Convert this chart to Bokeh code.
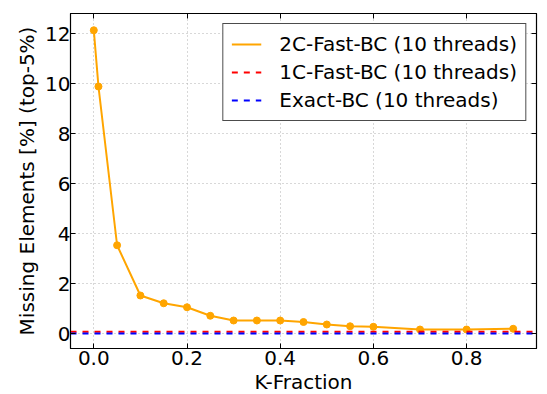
from bokeh.plotting import figure
from bokeh.layouts import row, column
from bokeh.models import (LinearAxis, Range1d, Legend, LegendItem, FixedTicker,
                          CustomLabelingPolicy, PrintfTickFormatter, Spacer)
from bokeh.embed import file_html
from bokeh.resources import INLINE

k_fraction = [0.0, 0.01, 0.05, 0.1, 0.15, 0.2, 0.25, 0.3, 0.35, 0.4, 0.45, 0.5, 0.55, 0.6, 0.7, 0.8, 0.9]
fast2c = [12.13, 9.88, 3.53, 1.52, 1.21, 1.05, 0.71, 0.52, 0.52, 0.52, 0.46, 0.36, 0.29, 0.27, 0.16, 0.16, 0.19]
line_x = [-0.05, 0.95]
fast1c = [0.07, 0.07]
exact = [0.0, 0.0]
x_ticks = [0.0, 0.2, 0.4, 0.6, 0.8]
x_tick_labels = ["0.0", "0.2", "0.4", "0.6", "0.8"]
y_ticks = [0, 2, 4, 6, 8, 10, 12]

FONT = "DejaVu Sans"
FS = "20px"

p = figure(frame_width=466, frame_height=335, output_backend="svg", toolbar_location=None,
           x_range=Range1d(-0.05, 0.95), y_range=Range1d(-0.6, 12.8),
           min_border_left=0, min_border_right=2, min_border_top=5, min_border_bottom=0,
           background_fill_color="white", border_fill_color="white")
p.outline_line_color = "black"
p.outline_line_width = 1.2

for ax in (p.xaxis[0], p.yaxis[0]):
    ax.major_tick_in = 5
    ax.major_tick_out = 0
    ax.minor_tick_in = 0
    ax.minor_tick_out = 0
    ax.major_label_text_font = FONT
    ax.major_label_text_font_size = FS
    ax.major_label_text_color = "black"
    ax.axis_label_text_font = FONT
    ax.axis_label_text_font_size = FS
    ax.axis_label_text_font_style = "normal"
    ax.axis_label_text_color = "black"
    ax.axis_line_color = "black"
    ax.major_tick_line_color = "black"

p.xaxis[0].ticker = FixedTicker(ticks=x_ticks)
p.xaxis[0].formatter = PrintfTickFormatter(format="%.1f")
p.xaxis[0].major_label_overrides = {t: s for t, s in zip(x_ticks, x_tick_labels)}
p.yaxis[0].ticker = FixedTicker(ticks=y_ticks)
p.xaxis[0].axis_label = "K-Fraction"
p.yaxis[0].axis_label = "Missing Elements [%] (top-5%)"
p.xaxis[0].major_label_standoff = 2
p.yaxis[0].major_label_standoff = 0
p.xaxis[0].axis_label_standoff = 2
p.yaxis[0].axis_label_standoff = 3

hide = CustomLabelingPolicy(code="return new indices.constructor(indices.size, 0);")
top = LinearAxis(ticker=FixedTicker(ticks=x_ticks), major_label_policy=hide,
                 major_tick_in=5, major_tick_out=0, minor_tick_in=0, minor_tick_out=0,
                 major_label_standoff=0)
right = LinearAxis(ticker=FixedTicker(ticks=y_ticks), major_label_policy=hide,
                   major_tick_in=5, major_tick_out=0, minor_tick_in=0, minor_tick_out=0,
                   major_label_standoff=0)
p.add_layout(top, "above")
p.add_layout(right, "right")

p.xgrid.ticker = FixedTicker(ticks=x_ticks)
p.ygrid.ticker = FixedTicker(ticks=y_ticks)
for g in (p.xgrid[0], p.ygrid[0]):
    g.grid_line_color = "#b0b0b0"
    g.grid_line_dash = "1 3"
    g.grid_line_width = 1

l1 = p.line(k_fraction, fast2c, line_color="orange", line_width=2)
s1 = p.scatter(k_fraction, fast2c, size=7, fill_color="orange", line_color="orange")
l2 = p.line(line_x, fast1c, line_color="red", line_width=2, line_dash="6 6")
l3 = p.line(line_x, exact, line_color="blue", line_width=2, line_dash="6 6")

legend = Legend(items=[
    LegendItem(label="2C-Fast-BC (10 threads)", renderers=[l1]),
    LegendItem(label="1C-Fast-BC (10 threads)", renderers=[l2]),
    LegendItem(label="Exact-BC (10 threads)", renderers=[l3]),
], location="top_right")
legend.label_text_font = FONT
legend.label_text_font_size = FS
legend.label_text_color = "black"
legend.label_height = 24
legend.border_line_color = "black"
legend.border_line_width = 1.2
legend.border_line_alpha = 0.7
legend.background_fill_alpha = 1.0
legend.glyph_width = 30
legend.label_standoff = 18
legend.padding = 8
legend.spacing = 4
legend.margin = 10
p.add_layout(legend)

layout = column(Spacer(width=10, height=2), row(Spacer(width=12, height=10), p))
open("out.html", "w").write(file_html(layout, INLINE))
